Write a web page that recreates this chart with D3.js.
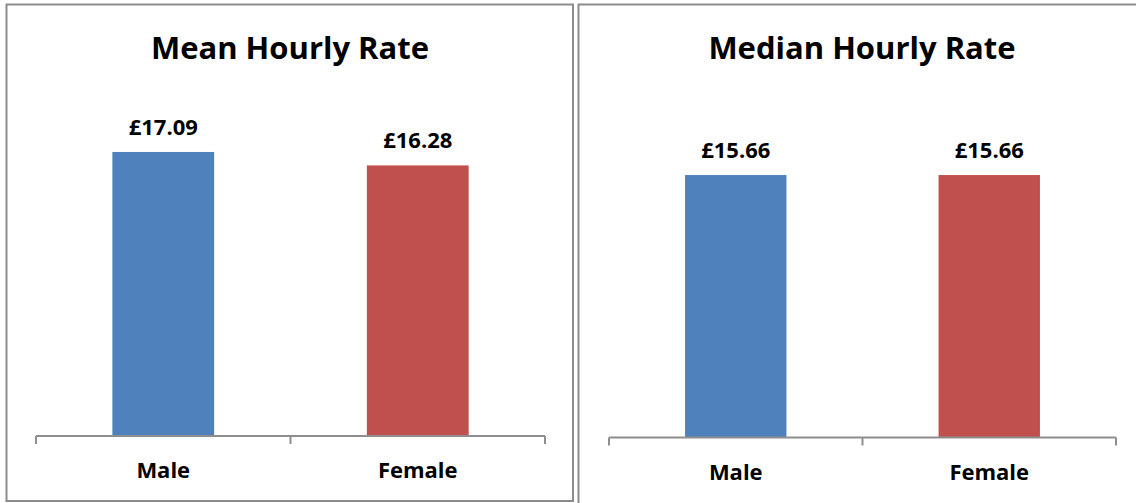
<!DOCTYPE html>
<html><head><meta charset="utf-8">
<script src="https://cdn.jsdelivr.net/npm/d3@7"></script>
<style>body{margin:0;background:#fff}svg{display:block}</style>
</head><body>
<svg id="c" width="1136" height="503"></svg>
<script>
const categories = ["Male", "Female"];
const meanValues = [17.09, 16.28];
const medianValues = [15.66, 15.66];
const titles = ["Mean Hourly Rate", "Median Hourly Rate"];
const colors = ["#4F81BD", "#C0504D"];

const svg = d3.select("#c");
const font = "'Open Sans', sans-serif";

// panel borders
svg.append("rect").attr("x", 6.5).attr("y", 4.5).attr("width", 566.5).attr("height", 496.5)
  .attr("fill", "none").attr("stroke", "#8c8c8c").attr("stroke-width", 2);
svg.append("rect").attr("x", 578.5).attr("y", 4.5).attr("width", 600).attr("height", 600)
  .attr("fill", "none").attr("stroke", "#8c8c8c").attr("stroke-width", 2);

const panels = [
  {title: titles[0], values: meanValues, x0: 36, x1: 545, y0: 436, yTop: 103.6, titleX: 290},
  {title: titles[1], values: medianValues, x0: 609, x1: 1116, y0: 437.5, yTop: 102.3, titleX: 862}
];

panels.forEach(p => {
  const g = svg.append("g");
  const x = d3.scaleBand().domain(categories).range([p.x0, p.x1]).paddingInner(0.6).paddingOuter(0.3);
  const y = d3.scaleLinear().domain([0, 20]).range([p.y0, p.yTop]);

  g.append("text").attr("x", p.titleX).attr("y", 59).attr("text-anchor", "middle")
    .attr("font-family", font).attr("font-weight", "bold").attr("font-size", 31)
    .attr("fill", "#000").text(p.title);

  g.selectAll("rect.bar").data(p.values).join("rect").attr("class", "bar")
    .attr("x", (d, i) => x(categories[i]))
    .attr("width", x.bandwidth())
    .attr("y", d => y(d))
    .attr("height", d => y(0) - y(d))
    .attr("fill", (d, i) => colors[i]);

  g.selectAll("text.val").data(p.values).join("text").attr("class", "val")
    .attr("x", (d, i) => x(categories[i]) + x.bandwidth() / 2)
    .attr("y", d => y(d) - 17)
    .attr("text-anchor", "middle")
    .attr("font-family", font).attr("font-weight", "bold").attr("font-size", 22)
    .text(d => "£" + d.toFixed(2));

  // axis with ticks at band boundaries
  const axis = g.append("g").attr("transform", `translate(0,${p.y0})`);
  axis.append("line").attr("x1", p.x0).attr("x2", p.x1).attr("y1", 0).attr("y2", 0)
    .attr("stroke", "#8e8e8e").attr("stroke-width", 2);
  const step = x.step();
  const tickPos = d3.range(categories.length + 1).map(i => p.x0 + i * step);
  axis.selectAll("line.tick").data(tickPos).join("line").attr("class", "tick")
    .attr("x1", d => d).attr("x2", d => d).attr("y1", 0).attr("y2", 8)
    .attr("stroke", "#8e8e8e").attr("stroke-width", 2);

  g.selectAll("text.cat").data(categories).join("text").attr("class", "cat")
    .attr("x", d => x(d) + x.bandwidth() / 2)
    .attr("y", p.y0 + 42)
    .attr("text-anchor", "middle")
    .attr("font-family", font).attr("font-weight", "bold").attr("font-size", 22)
    .text(d => d);
});
</script>
</body></html>
